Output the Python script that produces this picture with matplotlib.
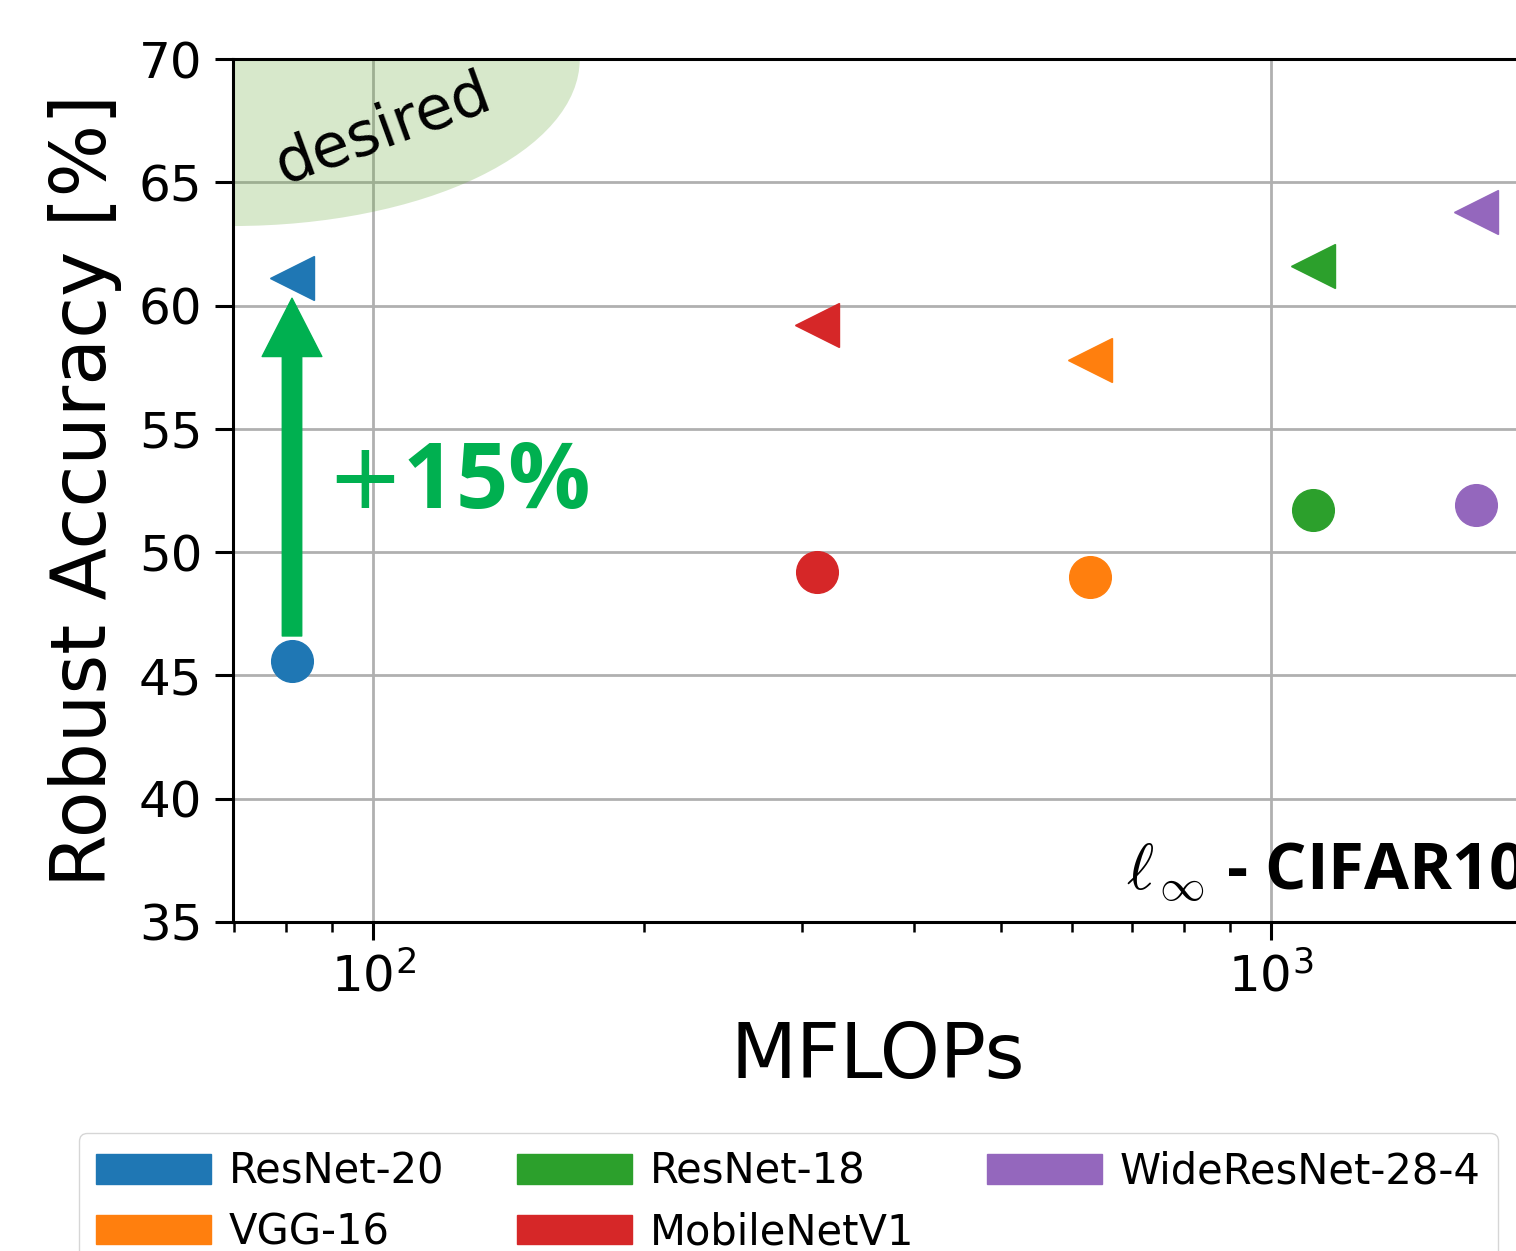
import matplotlib
matplotlib.use("Agg")
import matplotlib.pyplot as plt
from matplotlib.patches import Ellipse, Patch

# data
models = ["ResNet-20", "VGG-16", "ResNet-18", "MobileNetV1", "WideResNet-28-4"]
colors = ["tab:blue", "tab:orange", "tab:green", "tab:red", "tab:purple"]
mflops = [81.2, 628, 1114, 312, 1691]
acc_base = [45.6, 49.0, 51.7, 49.2, 51.9]
acc_ours = [61.1, 57.8, 61.6, 59.2, 63.8]
yticks = [35, 40, 45, 50, 55, 60, 65, 70]

fig = plt.figure(figsize=(15.16, 12.51), dpi=100)
ax = fig.add_axes([0.1537, 0.263, 0.8503, 0.6898])

ax.set_xscale("log")
ax.set_xlim(69.8, 1903)
ax.set_ylim(35, 70)
ax.set_yticks(yticks)

ax.grid(True, which="major", color="#b0b0b0", lw=2, zorder=0)
ax.set_axisbelow(True)

# desired region
ell = Ellipse((0, 1), 0.538, 0.387, transform=ax.transAxes,
              facecolor="#70ad47", alpha=0.28, edgecolor="none", zorder=1)
ax.add_patch(ell)
ax.text(0.117, 0.918, "desired", transform=ax.transAxes, rotation=20,
        ha="center", va="center", fontsize=44, zorder=2)

for m, c, x, yb, yo in zip(models, colors, mflops, acc_base, acc_ours):
    ax.plot(x, yb, "o", color=c, markersize=30, zorder=4)
    ax.plot(x, yo, "<", color=c, markersize=32, zorder=4)

# improvement arrow
ax.annotate("", xy=(mflops[0], 60.3), xytext=(mflops[0], 46.6),
            arrowprops=dict(width=14, headwidth=43, headlength=42,
                            color="#00b050", shrink=0), zorder=3)
ax.text(0.072, 0.48, r"$+$15%", transform=ax.transAxes, color="#00b050",
        fontsize=66, fontfamily="Open Sans", fontweight="bold",
        ha="left", va="baseline")

ax.text(1.003, 0.037, r"$\ell_{\,\infty}$ - CIFAR10", transform=ax.transAxes,
        fontsize=47, fontfamily="Open Sans", fontweight="bold",
        math_fontfamily="cm", ha="right", va="baseline")

ax.tick_params(axis="both", which="major", labelsize=36, length=13, width=2.2, pad=9)
ax.tick_params(axis="both", which="minor", length=7, width=1.8)
for s in ax.spines.values():
    s.set_linewidth(2.2)

ax.set_xlabel("MFLOPs", fontsize=55, labelpad=13)
ax.set_ylabel("Robust Accuracy [%]", fontsize=55, labelpad=12)

handles = [Patch(color=c, label=m) for m, c in zip(models, colors)]
fig.legend(handles=handles, loc="upper center", bbox_to_anchor=(0.52, 0.0943),
           ncol=3, fontsize=30, handlelength=2.75, handletextpad=0.43,
           columnspacing=1.75, labelspacing=0.45, borderpad=0.42, borderaxespad=0)

fig.savefig("out.png", dpi=100)
